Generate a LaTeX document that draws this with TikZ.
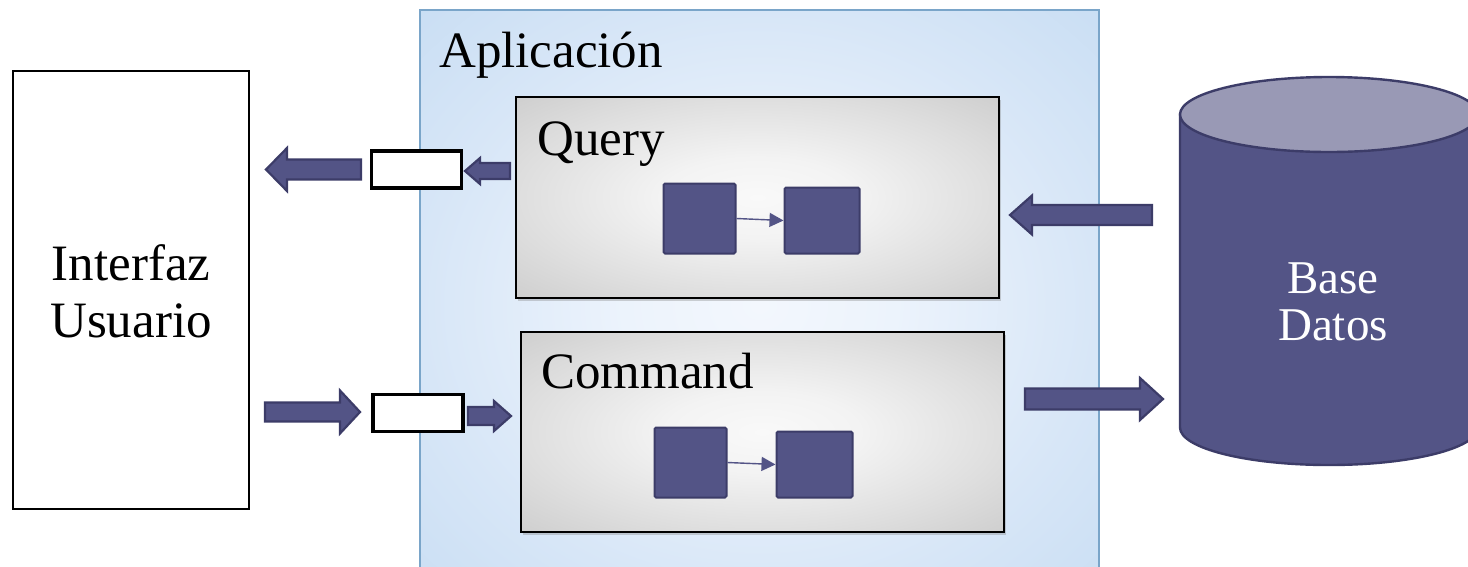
\documentclass[tikz,border=0pt]{standalone}
\usepackage{fontspec}
\setmainfont{Liberation Serif}
\usetikzlibrary{arrows.meta,shadows}
\definecolor{dk}{HTML}{535486}
\definecolor{dkb}{HTML}{3C3C68}
\definecolor{dktop}{HTML}{9999B5}
\definecolor{appb}{HTML}{7AA5C9}
\pgfdeclareradialshading{appshade}{\pgfpoint{0bp}{0bp}}{%
  color(0bp)=(rgb,255:red,243;green,247;blue,253);
  color(10bp)=(rgb,255:red,236;green,243;blue,252);
  color(25bp)=(rgb,255:red,215;green,230;blue,247);
  color(40bp)=(rgb,255:red,196;green,219;blue,242);
  color(50bp)=(rgb,255:red,186;green,212;blue,240)}
\pgfdeclareradialshading{grayshade}{\pgfpoint{0bp}{0bp}}{%
  color(0bp)=(rgb,255:red,249;green,249;blue,249);
  color(10bp)=(rgb,255:red,243;green,243;blue,243);
  color(25bp)=(rgb,255:red,222;green,222;blue,222);
  color(40bp)=(rgb,255:red,200;green,200;blue,200);
  color(50bp)=(rgb,255:red,186;green,186;blue,186)}
% block arrow: tail x, tip x, y, shaft half, head half, head length
\newcommand\BlkArrow[6]{%
  \pgfmathsetmacro\hb{#2-#6*sign(#2-#1)}%
  \draw[blkarrow] (#1,{#3-#4}) -- (\hb,{#3-#4}) -- (\hb,{#3-#5}) -- (#2,#3)
    -- (\hb,{#3+#5}) -- (\hb,{#3+#4}) -- (#1,{#3+#4}) -- cycle;}
\tikzset{
  blkarrow/.style={fill=dk, draw=dkb, line width=2.2pt, line join=miter},
  lbl/.style={font=\fontsize{51}{60}\selectfont, inner sep=0pt},
  uibox/.style={draw=black, line width=1.4pt, fill=white, inner sep=0pt},
  appbox/.style={draw=appb, line width=1.4pt, shading=appshade, inner sep=0pt},
  graybox/.style={draw=black, line width=1.6pt, shading=grayshade, inner sep=0pt,
    drop shadow={opacity=0.35, shadow xshift=2pt, shadow yshift=-3pt}},
  insq/.style={draw=dkb, fill=dk, line width=2pt, rounded corners=1.5pt, inner sep=0pt},
  wbox/.style={draw=black, fill=white, line width=3.2pt, inner sep=0pt},
  inarrow/.style={draw=dk, line width=1.4pt, -{Triangle[length=14pt,width=14pt]}},
}
\begin{document}
\begin{tikzpicture}[x=1pt,y=-1pt]
\useasboundingbox (0,0) rectangle (1468,566);
\fill[white] (0,0) rectangle (1468,566);
\clip (0,0) rectangle (1468,566);

% Interfaz Usuario
\node[uibox, minimum width=236, minimum height=438] (ui) at (131,290) {};
\node[lbl, anchor=base] (uit1) at (131,280) {Interfaz};
\node[lbl, anchor=base] (uit2) at (131,337) {Usuario};

% Aplicacion
\node[appbox, minimum width=679, minimum height=590] (app) at (759.5,305) {};
\node[lbl, anchor=base west] (appt) at (439,67) {Aplicación};

% Query
\node[graybox, minimum width=483, minimum height=201] (query) at (757.5,197.5) {};
\node[lbl, anchor=base west] (queryt) at (537,155) {Query};
\node[insq, minimum width=72, minimum height=70] (q1) at (699.5,218.5) {};
\node[insq, minimum width=75, minimum height=66] (q2) at (822,220.5) {};
\draw[inarrow] (q1.east) -- (q2.west);

% Command
\node[graybox, minimum width=483, minimum height=200] (cmd) at (762.5,432) {};
\node[lbl, anchor=base west] (cmdt) at (541,388) {Command};
\node[insq, minimum width=72, minimum height=70] (c1) at (690.5,462.5) {};
\node[insq, minimum width=76, minimum height=66] (c2) at (814.5,464.5) {};
\draw[inarrow] (c1.east) -- (c2.west);

% buffers
\node[wbox, minimum width=90, minimum height=37] (buf1) at (416.5,169.5) {};
\node[wbox, minimum width=90, minimum height=37] (buf2) at (418,413) {};

% block arrows
\BlkArrow{361}{266}{169.5}{10}{21.5}{21}
\BlkArrow{510}{465}{171}{8}{13}{15}
\BlkArrow{265}{360}{412}{9.5}{21.5}{20}
\BlkArrow{468}{511}{416}{9}{15}{17}
\BlkArrow{1152}{1010}{215}{10}{19.5}{22}
\BlkArrow{1025}{1163}{399}{10.5}{21}{23}

% database cylinder
\filldraw[fill=dk, draw=dkb, line width=2.4pt] (1180,114.5) -- (1180,427.5)
  arc[start angle=180, end angle=0, x radius=149, y radius=37.5] -- (1478,114.5) -- cycle;
\filldraw[fill=dktop, draw=dkb, line width=2.4pt] (1329,114.5) ellipse [x radius=149, y radius=37.5];
\node[lbl, text=white, font=\fontsize{47}{56}\selectfont, anchor=base] (dbt1) at (1333,293) {Base};
\node[lbl, text=white, font=\fontsize{47}{56}\selectfont, anchor=base] (dbt2) at (1333,340) {Datos};
\end{tikzpicture}
\end{document}
